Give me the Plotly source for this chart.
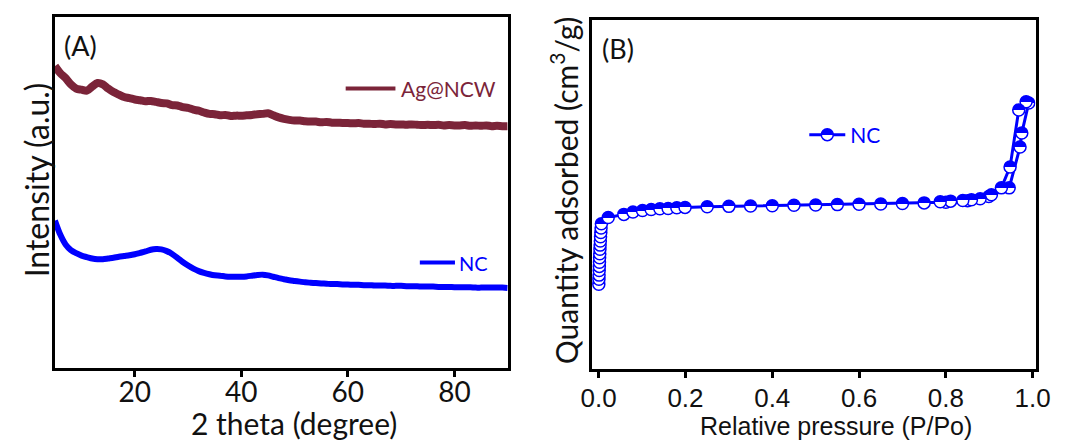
import plotly.graph_objects as go

# ---------------- (A) XRD patterns ----------------
two_theta = list(range(5, 91))

ag_ncw = [86.0, 84.0, 82.6, 80.8, 79.6, 79.3, 79.0, 80.2, 81.2, 80.8,
          79.6, 78.6, 77.9, 77.2, 76.9, 76.5, 76.3, 76.0, 76.1, 75.8,
          75.5, 75.4, 74.9, 74.8, 74.3, 74.1, 73.6, 73.3, 72.8, 72.4,
          72.3, 72.0, 72.1, 71.8, 71.9, 71.9, 72.0, 72.1, 72.3, 72.4,
          72.6, 72.0, 71.4, 71.0, 70.7, 70.5, 70.5, 70.3, 70.2, 70.2,
          70.0, 70.1, 69.9, 69.9, 69.8, 69.8, 69.7, 69.8, 69.6, 69.6,
          69.5, 69.6, 69.4, 69.5, 69.4, 69.4, 69.3, 69.4, 69.3, 69.2,
          69.3, 69.2, 69.3, 69.1, 69.2, 69.1, 69.1, 69.2, 69.0, 69.1,
          69.0, 69.1, 68.9, 69.0, 68.9, 68.9]

nc_xrd = [42.0, 38.0, 35.2, 33.6, 32.7, 32.0, 31.6, 31.2, 31.0, 31.0,
          31.2, 31.4, 31.7, 31.9, 32.1, 32.4, 32.8, 33.2, 33.7, 33.9,
          33.8, 33.3, 32.5, 31.4, 30.2, 29.2, 28.3, 27.6, 27.1, 26.7,
          26.4, 26.3, 26.1, 26.0, 26.0, 26.0, 26.1, 26.3, 26.5, 26.6,
          26.4, 26.0, 25.6, 25.3, 25.0, 24.8, 24.6, 24.4, 24.3, 24.2,
          24.1, 24.0, 23.9, 23.9, 23.8, 23.8, 23.7, 23.7, 23.6, 23.6,
          23.5, 23.5, 23.5, 23.4, 23.4, 23.4, 23.3, 23.3, 23.3, 23.2,
          23.2, 23.2, 23.1, 23.1, 23.1, 23.0, 23.0, 23.0, 23.0, 22.9,
          22.9, 22.9, 22.9, 22.9, 22.9, 22.8]

# ---------------- (B) N2 sorption isotherm of NC ----------------
p_ads = [0.0003, 0.0006, 0.0009, 0.0012, 0.0015, 0.0018, 0.0021, 0.0025,
         0.0029, 0.0033, 0.0038, 0.0043, 0.0049, 0.0055, 0.0062,
         0.022, 0.058, 0.079, 0.101, 0.121, 0.141, 0.160, 0.180, 0.199,
         0.250, 0.300, 0.350, 0.400, 0.450, 0.500, 0.550, 0.600, 0.650,
         0.700, 0.750, 0.800, 0.850, 0.899, 0.946, 0.971, 0.975, 0.991]
q_ads = [24.3, 25.7, 26.9, 28.2, 29.4, 30.6, 31.9, 33.0,
         34.3, 35.5, 36.7, 37.9, 39.1, 40.4, 41.6,
         43.4, 44.3, 45.0, 45.4, 45.7, 45.9, 46.0, 46.2, 46.3,
         46.5, 46.6, 46.7, 46.8, 46.9, 47.0, 47.1, 47.2, 47.3,
         47.4, 47.6, 47.8, 48.2, 49.4, 51.9, 63.6, 67.6, 76.2]
p_des = [0.985, 0.968, 0.948, 0.928, 0.905, 0.879, 0.859, 0.839, 0.811, 0.787]
q_des = [76.6, 74.2, 57.9, 51.9, 49.9, 48.8, 48.5, 48.3, 48.1, 47.9]

ticks_a = [20, 40, 60, 80]
ticks_b = [0.0, 0.2, 0.4, 0.6, 0.8, 1.0]

MAROON = "#7b2439"
BLUE = "#0000ff"
INK = "#111111"
W, H = 1072, 441


def px(x):
    return x / W


def py(y):
    return 1 - y / H


fig = go.Figure()

fig.add_trace(go.Scatter(
    x=two_theta, y=ag_ncw, mode="lines", name="Ag@NCW",
    line=dict(color=MAROON, width=8, shape="spline", smoothing=0.8),
    xaxis="x", yaxis="y", showlegend=False))
fig.add_trace(go.Scatter(
    x=two_theta, y=nc_xrd, mode="lines", name="NC",
    line=dict(color=BLUE, width=6, shape="spline", smoothing=0.8),
    xaxis="x", yaxis="y", showlegend=False))

fig.add_trace(go.Scatter(
    x=p_ads + p_des, y=q_ads + q_des, mode="lines+markers", name="NC",
    line=dict(color=BLUE, width=3),
    marker=dict(symbol="circle", size=12, color=BLUE,
                gradient=dict(type="vertical", color="white"),
                line=dict(color=BLUE, width=1.5)),
    xaxis="x2", yaxis="y2", showlegend=True))

frame = dict(showline=True, linewidth=3, linecolor="black", mirror=True,
             showgrid=False, zeroline=False)

fig.update_layout(
    width=W, height=H,
    margin=dict(l=0, r=0, t=0, b=0),
    paper_bgcolor="white", plot_bgcolor="white",
    xaxis=dict(domain=[px(45), px(509)], range=[5, 90], anchor="y",
               tickmode="array", tickvals=ticks_a, ticks="outside",
               ticklen=6, tickwidth=3, tickcolor="black", ticklabelstandoff=-9,
               tickfont=dict(family="Lato", size=28, color=INK), **frame),
    yaxis=dict(domain=[py(368), py(17)], range=[0, 100], anchor="x",
               showticklabels=False, ticks="", **frame),
    xaxis2=dict(domain=[px(595), px(1050)], range=[-0.0164, 1.0067], anchor="y2",
                tickmode="array", tickvals=ticks_b, tickformat=".1f",
                ticks="outside", ticklen=6, tickwidth=3, tickcolor="black",
                ticklabelstandoff=-2,
                tickfont=dict(family="Liberation Sans", size=26, color=INK), **frame),
    yaxis2=dict(domain=[py(369), py(20)], range=[0, 100], anchor="x2",
                showticklabels=False, ticks="", **frame),
    legend=dict(x=px(813), y=py(135), xanchor="left", yanchor="middle",
                bgcolor="rgba(0,0,0,0)", borderwidth=0, itemwidth=36,
                font=dict(family="Lato", size=21, color=BLUE)),
)

# legend keys for panel (A)
for (x0, x1, yy, col) in [(343, 394, 88.6, MAROON), (419, 455, 262.5, BLUE)]:
    fig.add_shape(type="line", xref="paper", yref="paper",
                  x0=px(x0), x1=px(x1), y0=py(yy), y1=py(yy),
                  line=dict(color=col, width=4))

notes = [
    dict(text="Ag@NCW", x=px(398), y=py(88.6), xanchor="left", yanchor="middle",
         font=dict(family="Lato", size=21, color=MAROON)),
    dict(text="NC", x=px(457), y=py(262.5), xanchor="left", yanchor="middle",
         font=dict(family="Lato", size=20, color=BLUE)),
    dict(text="(A)", x=px(52), y=py(45), xanchor="left", yanchor="middle",
         font=dict(family="Lato", size=27, color=INK)),
    dict(text="(B)", x=px(604), y=py(48), xanchor="left", yanchor="middle",
         font=dict(family="Lato", size=27, color=INK)),
    dict(text="Intensity (a.u.)", x=px(26), y=py(180), textangle=-90,
         xanchor="center", yanchor="middle",
         font=dict(family="Lato", size=32, color=INK)),
    dict(text="2 theta (degree)", x=px(290), y=py(423),
         xanchor="center", yanchor="middle",
         font=dict(family="Lato", size=30, color=INK)),
    dict(text="Quantity adsorbed (cm<sup>3</sup>/g)", x=px(567), y=py(190),
         textangle=-90, xanchor="center", yanchor="middle",
         font=dict(family="Lato", size=30, color=INK)),
    dict(text="Relative pressure (P/Po)", x=px(846), y=py(426),
         xanchor="center", yanchor="middle",
         font=dict(family="Liberation Sans", size=25, color=INK)),
]
for n in notes:
    fig.add_annotation(xref="paper", yref="paper", showarrow=False, **n)

# split the vertical marker gradient into a hard edge: filled top half, white bottom half
HALF_FILL_JS = """
var gd = document.getElementById('{plot_id}');
function halfFill() {
  gd.querySelectorAll('linearGradient stop').forEach(function (s) {
    s.setAttribute('offset', '50%');
  });
}
halfFill();
gd.on('plotly_afterplot', halfFill);
"""

fig.write_html("out.html", post_script=HALF_FILL_JS)
